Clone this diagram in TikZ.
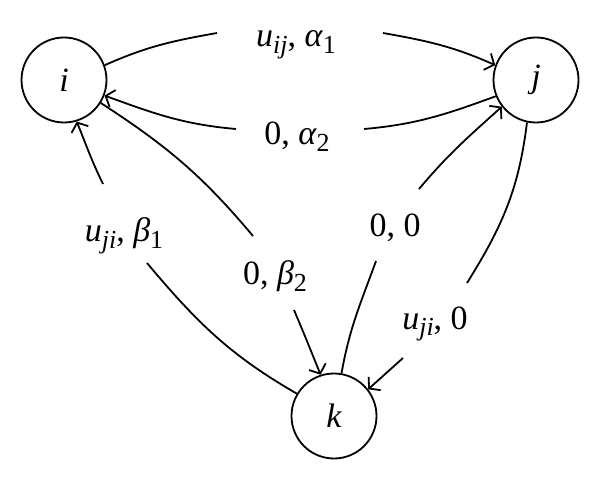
\documentclass[tikz,border=0pt]{standalone}
\usepackage{fontspec}
\setmainfont{Liberation Serif}
\usetikzlibrary{arrows.meta}
\newcommand{\lbsub}[1]{\raisebox{-6.5pt}{\fontsize{26}{30}\selectfont #1}}
\begin{document}
\begin{tikzpicture}[x=1pt,y=1pt,
  state/.style={circle,draw,line width=1.8pt,minimum size=85pt,inner sep=0pt,font=\fontsize{34}{40}\selectfont\itshape},
  lab/.style={anchor=base,inner sep=0pt,font=\fontsize{34}{40}\selectfont},
  edge/.style={line width=1.8pt},
  arr/.style={edge,-{Straight Barb[length=7.5pt,width=18pt]}}]
\useasboundingbox (0,0) rectangle (600,-481);
\node[state] (i) at (64,-80) {i};
\node[state] (j) at (536,-80) {j};
\node[state] (k) at (334,-416) {k};

\node[lab] (l1) at (296,-47) {\textit{u}\lbsub{\textit{ij}}, \textit{α}\lbsub{1}};
\node[lab] (l2) at (297,-145) {0, \textit{α}\lbsub{2}};
\node[lab] (l3) at (124,-242) {\textit{u}\lbsub{\textit{ji}}, \textit{β}\lbsub{1}};
\node[lab] (l4) at (275,-285) {0, \textit{β}\lbsub{2}};
\node[lab] (l5) at (395,-237) {0, 0};
\node[lab] (l6) at (435,-329) {\textit{u}\lbsub{\textit{ji}}, 0};

\coordinate (a1) at (217,-33); \coordinate (b1) at (383,-33);
\coordinate (a2) at (364,-129); \coordinate (b2) at (236,-129);
\coordinate (a3) at (147,-263); \coordinate (b3) at (103,-184);
\coordinate (a4) at (253,-236); \coordinate (b4) at (294,-310);
\coordinate (a5) at (376,-261); \coordinate (b5) at (419,-189);
\coordinate (a6) at (467,-283); \coordinate (b6) at (403,-358);

\draw[edge] (i.20) to[out=24,in=190] (a1);
\draw[arr] (b1) to[out=-10,in=156] (j.160);
\draw[edge] (j.202) to[out=200,in=5] (a2);
\draw[arr] (b2) to[out=175,in=-20] (i.-21);
\draw[edge] (k.149) to[out=150,in=-50] (a3);
\draw[arr] (b3) to[out=116,in=-68] (i.-73);
\draw[edge] (i.-32) to[out=-33,in=130] (a4);
\draw[arr] (b4) to[out=-67,in=112] (k.108);
\draw[edge] (k.80) to[out=80,in=250] (a5);
\draw[arr] (b5) to[out=50,in=222] (j.218);
\draw[edge] (j.258) to[out=-97,in=58] (a6);
\draw[arr] (b6) to[out=-138,in=42] (k.38);
\end{tikzpicture}
\end{document}
